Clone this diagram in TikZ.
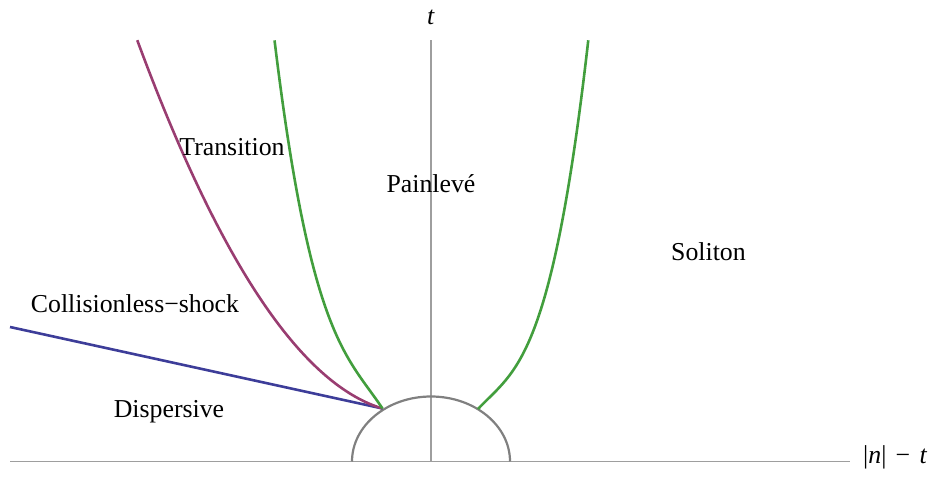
\documentclass[tikz,border=0pt]{standalone}
\usepackage{fontspec}
\setmainfont{Liberation Serif}
\definecolor{mblue}{rgb}{0.24,0.24,0.6}
\definecolor{mpurple}{rgb}{0.6,0.24,0.442}
\definecolor{mgreen}{rgb}{0.26,0.62,0.24}
\definecolor{axisgray}{gray}{0.62}
\definecolor{arcgray}{gray}{0.5}
\begin{document}
\begin{tikzpicture}[x=1pt,y=-1pt,
  axisline/.style={draw=axisgray,line width=1.3pt},
  curve/.style={line width=2.6pt,line join=round},
  lbl/.style={anchor=base,inner sep=0pt,font=\fontsize{25.8}{30}\selectfont}]
\useasboundingbox (0,0) rectangle (933,476);
% axes
\coordinate (xl) at (10,461.5);
\coordinate (xr) at (850,461.5);
\coordinate (yb) at (431,461.5);
\coordinate (yt) at (431,40);
\draw[axisline] (xl) -- (xr);
\draw[axisline] (yb) -- (yt);
% half ellipse
\draw[draw=arcgray,line width=2.2pt] (352,461.5) arc[start angle=180,end angle=360,x radius=79,y radius=65];
% junctions
\coordinate (J) at (382.5,408.5);
\coordinate (K) at (478,409);
\coordinate (B) at (10,327);
% blue line
\draw[curve,mblue] (B) -- (J);
% purple
\draw[curve,mpurple] plot[domain=0:2.453,samples=90,variable=\v]
  ({382.5-100*\v},{408.5-(30*\v+49*\v*\v)});
% green left
\draw[curve,mgreen] plot[domain=0:1.08,samples=90,variable=\v]
  ({382.5-100*\v},{408.5-(149.48*\v-95*\v*\v+252.3*\v*\v*\v)});
% green right
\draw[curve,mgreen] plot[domain=0:1.103,samples=90,variable=\v]
  ({478+100*\v},{409-(106.8*\v-82.3*\v*\v+261.8*\v*\v*\v)});
% labels
\node[lbl] (tlab) at (431,25) {\textit{t}};
\node[lbl,anchor=base west] (xlab) at (863,463) {|\textit{n}|\hspace{0.36em}−\hspace{0.36em}\textit{t}};
\node[lbl] (trans) at (232,155) {Transition};
\node[lbl] (pain) at (431,192) {Painlevé};
\node[lbl] (sol) at (708.5,260) {Soliton};
\node[lbl] (coll) at (135,312) {Collisionless−shock};
\node[lbl] (disp) at (169,417) {Dispersive};
\end{tikzpicture}
\end{document}
